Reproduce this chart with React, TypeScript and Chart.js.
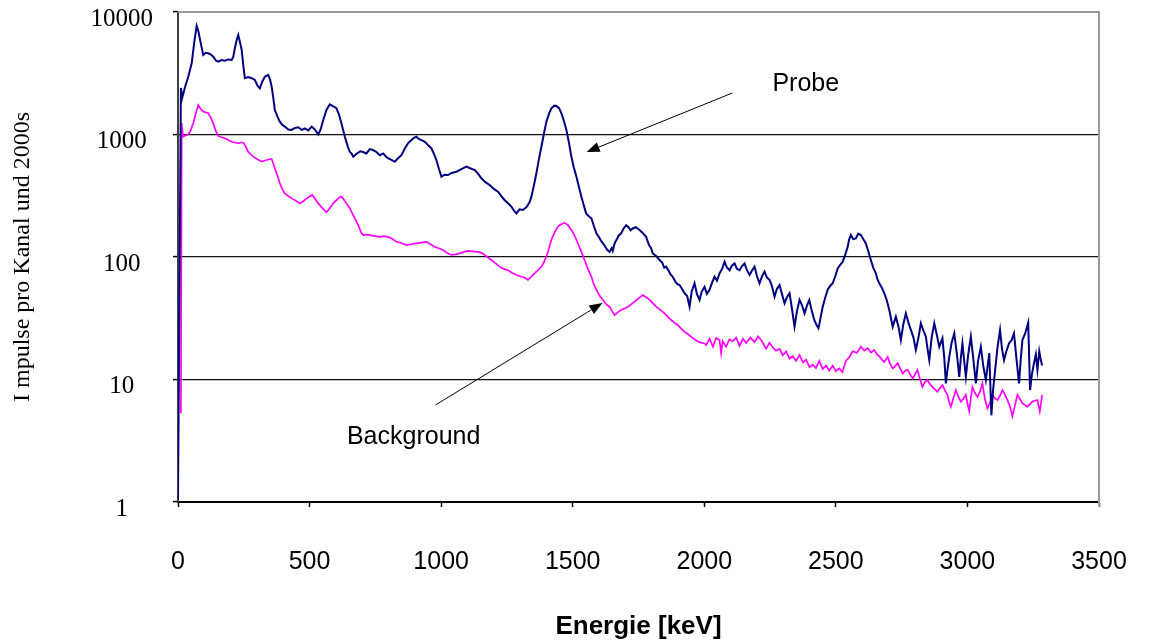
import React, { useEffect, useRef } from "react";
import { Chart, registerables } from "chart.js";

Chart.register(...registerables);

// ---- data ----
const probeEnergy = [
  0, 11, 16, 27, 39, 52, 62, 71, 78, 84, 96, 106, 115, 125, 134, 145, 153, 165, 178, 191,
  204, 210, 216, 223, 229, 236, 242, 248, 254, 267, 280, 292, 302, 311, 320, 330, 343, 350, 356, 362,
  368, 378, 387, 396, 406, 419, 432, 444, 457, 470, 482, 495, 508, 520, 533, 542, 552, 565, 577, 590,
  602, 612, 621, 628, 634, 645, 653, 659, 666, 680, 693, 703, 716, 729, 741, 754, 767, 780, 790, 798,
  811, 824, 836, 849, 861, 874, 887, 897, 906, 915, 925, 938, 950, 963, 972, 982, 992, 1001, 1013, 1026,
  1040, 1058, 1075, 1096, 1110, 1128, 1140, 1153, 1167, 1184, 1200, 1216, 1228, 1241, 1254, 1267, 1276, 1286, 1298, 1311,
  1324, 1336, 1343, 1352, 1362, 1371, 1381, 1390, 1400, 1410, 1419, 1430, 1438, 1448, 1457, 1466, 1476, 1486, 1495, 1504,
  1514, 1524, 1533, 1542, 1551, 1561, 1571, 1580, 1590, 1600, 1608, 1615, 1625, 1632, 1640, 1648, 1652, 1659, 1668, 1675,
  1684, 1693, 1703, 1712, 1720, 1728, 1740, 1754, 1765, 1779, 1790, 1798, 1804, 1817, 1830, 1840, 1848, 1855, 1866, 1872,
  1880, 1890, 1898, 1906, 1915, 1925, 1935, 1944, 1952, 1963, 1972, 1982, 1990, 2001, 2010, 2020, 2030, 2039, 2048, 2058,
  2068, 2077, 2086, 2096, 2105, 2115, 2124, 2134, 2143, 2153, 2162, 2172, 2182, 2191, 2200, 2210, 2220, 2229, 2238, 2248,
  2257, 2267, 2276, 2286, 2295, 2305, 2314, 2324, 2333, 2343, 2352, 2362, 2372, 2381, 2390, 2399, 2409, 2418, 2426, 2434,
  2442, 2450, 2460, 2469, 2478, 2488, 2498, 2507, 2516, 2526, 2536, 2545, 2550, 2557, 2566, 2576, 2585, 2595, 2604, 2614,
  2624, 2633, 2642, 2652, 2658, 2665, 2675, 2684, 2694, 2703, 2716, 2728, 2738, 2747, 2756, 2766, 2776, 2785, 2795, 2804,
  2814, 2823, 2833, 2842, 2848, 2855, 2864, 2874, 2884, 2893, 2905, 2912, 2918, 2924, 2931, 2940, 2950, 2960, 2969, 2975,
  2981, 2988, 2994, 3003, 3013, 3022, 3032, 3040, 3051, 3060, 3070, 3077, 3083, 3091, 3097, 3104, 3114, 3124, 3131, 3139,
  3148, 3158, 3168, 3177, 3186, 3196, 3203, 3209, 3220, 3231, 3238, 3245, 3253, 3260, 3266, 3273, 3279, 3284,
];
const probeCounts = [
  1.04, 2400, 1990, 2450, 2965, 3810, 5700, 7690, 6900, 5900, 4460, 4650, 4600, 4500, 4315, 4000, 3925, 4050, 4000, 4100,
  4060, 4300, 5060, 5900, 6490, 5600, 4900, 3700, 2880, 2950, 2880, 2790, 2500, 2385, 2700, 2965, 3060, 2800, 2455, 2000,
  1585, 1400, 1273, 1200, 1160, 1100, 1090, 1130, 1145, 1090, 1120, 1080, 1160, 1100, 1000, 1100, 1313, 1600, 1765, 1700,
  1637, 1450, 1234, 1080, 960, 800, 720, 703, 659, 700, 730, 720, 700, 760, 747, 720, 678, 700, 660, 640,
  620, 600, 640, 678, 760, 848, 900, 940, 960, 920, 900, 873, 820, 771, 700, 619, 520, 453, 470, 467,
  485, 497, 520, 546, 530, 513, 480, 439, 410, 387, 360, 341, 315, 292, 275, 258, 240, 227, 245, 242,
  255, 280, 311, 380, 482, 620, 795, 1000, 1273, 1480, 1637, 1720, 1710, 1640, 1490, 1300, 1090, 850, 659, 540,
  453, 370, 311, 265, 227, 215, 207, 180, 156, 145, 135, 129, 120, 114, 110, 118, 112, 129, 140, 150,
  156, 170, 182, 175, 165, 171, 175, 166, 158, 146, 125, 118, 107, 102, 94.5, 90, 82, 83.4, 76, 72,
  69, 63, 60, 59, 55, 50.6, 48, 39.3, 52, 61, 50, 44.6, 52, 57, 50, 54, 62, 69, 64, 73.6,
  80, 91.6, 82, 78, 85, 88.8, 80, 78, 84, 88.8, 78, 71.3, 78, 83.4, 70, 61, 70, 75.9, 68, 65,
  58, 47.4, 55, 59, 50, 41.9, 47, 50.6, 38, 27, 36, 44.6, 40, 34.7, 40, 44.6, 36, 30.6, 28, 26.2,
  32, 39.3, 47, 54, 58, 61, 70, 80.7, 86, 91.6, 105, 121, 138, 151, 140, 142, 155, 151, 140, 129,
  110, 94.5, 82, 73.6, 66, 61, 56, 50.6, 44, 36.9, 27, 32.6, 27, 21, 28, 34.7, 29, 25.4, 22, 17.4,
  22, 28.8, 25, 22.4, 18, 14.4, 22, 28.8, 23, 18.5, 21.7, 15, 9.3, 12, 15.3, 20, 23.8, 16, 10.5, 15,
  19.7, 14, 10.5, 16, 22.4, 15, 9.3, 14, 18.5, 13, 9.9, 13, 16.4, 5.1, 8, 11.2, 18, 25.4, 18, 14.4,
  17, 19.7, 21, 23.8, 15, 9.3, 15, 21, 24, 29.1, 8.2, 11, 13.6, 16, 12, 17, 14.4, 13,
];

const backgroundEnergy = [
  11, 14, 19, 28, 39, 48, 58, 68, 77, 86, 96, 105, 115, 124, 134, 143, 153, 165, 178, 191,
  204, 216, 229, 238, 248, 257, 267, 276, 286, 300, 318, 328, 337, 346, 356, 362, 368, 378, 387, 396,
  406, 419, 432, 446, 463, 476, 489, 500, 510, 520, 533, 548, 564, 577, 590, 605, 612, 621, 630, 640,
  653, 662, 672, 686, 695, 703, 716, 729, 748, 767, 782, 798, 815, 830, 849, 868, 887, 906, 925, 944,
  960, 976, 991, 1007, 1023, 1039, 1055, 1071, 1087, 1102, 1120, 1140, 1153, 1166, 1178, 1191, 1206, 1222, 1238, 1254,
  1270, 1286, 1305, 1317, 1330, 1342, 1355, 1368, 1381, 1390, 1400, 1410, 1419, 1432, 1444, 1456, 1469, 1482, 1495, 1508,
  1520, 1533, 1545, 1558, 1571, 1580, 1590, 1603, 1615, 1628, 1640, 1650, 1659, 1672, 1684, 1697, 1710, 1722, 1735, 1750,
  1766, 1779, 1792, 1804, 1817, 1833, 1849, 1862, 1874, 1887, 1899, 1912, 1925, 1937, 1950, 1962, 1975, 1988, 2001, 2007,
  2020, 2033, 2045, 2058, 2064, 2070, 2083, 2095, 2108, 2121, 2134, 2147, 2159, 2175, 2191, 2204, 2216, 2225, 2235, 2248,
  2260, 2273, 2286, 2298, 2311, 2324, 2336, 2349, 2362, 2375, 2387, 2400, 2412, 2424, 2437, 2450, 2463, 2475, 2488, 2500,
  2513, 2525, 2538, 2551, 2564, 2580, 2595, 2608, 2621, 2633, 2646, 2656, 2665, 2675, 2684, 2697, 2706, 2716, 2725, 2735,
  2745, 2754, 2764, 2773, 2782, 2792, 2801, 2810, 2820, 2829, 2838, 2848, 2857, 2867, 2876, 2886, 2895, 2905, 2914, 2924,
  2931, 2937, 2946, 2956, 2965, 2975, 2985, 2994, 3000, 3007, 3013, 3019, 3028, 3038, 3048, 3057, 3066, 3076, 3086, 3095,
  3105, 3114, 3124, 3133, 3143, 3152, 3162, 3171, 3181, 3190, 3200, 3209, 3218, 3228, 3238, 3247, 3256, 3266, 3275, 3284,
];
const backgroundCounts = [
  5.3, 1240, 960, 980, 1000, 1080, 1234, 1500, 1740, 1620, 1535, 1520, 1490, 1380, 1234, 1080, 972, 950, 931, 900,
  873, 860, 848, 860, 860, 800, 720, 690, 659, 630, 600, 610, 619, 628, 630, 580, 530, 460, 400, 360,
  331, 315, 301, 290, 274, 285, 301, 312, 321, 300, 274, 252, 232, 250, 274, 295, 305, 311, 295, 274,
  250, 228, 207, 180, 160, 151, 152, 151, 148, 146, 148, 146, 140, 133, 130, 125, 127, 129, 131, 133,
  127, 121, 118, 114, 108, 104, 105, 107, 110, 112, 111, 110, 108, 104, 99, 94.5, 89, 83.4, 80, 78,
  74, 71.3, 69, 68, 65, 69, 73.6, 78, 83.4, 90, 101, 118, 138, 160, 177, 185, 190, 182, 166, 148,
  129, 110, 94.5, 80, 69, 60, 54, 48, 44.6, 41, 39.3, 36, 33.6, 35.5, 36.9, 38, 39.3, 41, 43.2, 46,
  49, 47, 44.6, 42, 39.3, 37, 34.7, 32.5, 30.6, 29, 27.9, 26, 24.5, 23.5, 22.4, 21.3, 20.4, 20, 19.7, 19.1,
  21.5, 18.5, 21.8, 21, 16.4, 20.5, 18.5, 21.2, 20.5, 22, 18.8, 21.5, 19.8, 22, 20.2, 22.5, 21, 19.5, 17.8, 20,
  18.3, 17.2, 17.8, 15.8, 16.9, 14.8, 15.5, 14.2, 15.8, 13.8, 14.5, 12.6, 13.2, 12.4, 14.2, 12.2, 13, 11.8, 13, 11.7,
  12.3, 11.5, 14.2, 15.2, 17, 16.5, 18.5, 17.2, 18, 16.6, 17.4, 16, 15.5, 14.5, 13.9, 15.3, 13.5, 12.3, 12.8, 13.6,
  12.2, 11.2, 11.8, 12, 11, 10.2, 11, 12, 10, 8.7, 9.5, 9.9, 9.2, 8.7, 8.3, 7.95, 8.5, 9.0, 8.2, 7.5,
  6.5, 6.0, 7, 8.2, 7.3, 6.6, 7, 7.5, 6.4, 5.5, 7, 8.7, 7.8, 7.2, 8, 9.3, 7, 5.8, 6.5, 7.5,
  7, 6.8, 7.4, 8.2, 7.5, 6.8, 6, 5.0, 6.2, 7.5, 6.9, 6.4, 6.2, 6.0, 6.3, 6.6, 6.7, 6.8, 5.5, 7.5,
];

const yTickValues = [1, 10, 100, 1000, 10000];
const yGridValues = [10, 100, 1000];

// annotation anchors in data units (energy keV, counts)
const probeLabel = { text: "Probe", x: 2259, y: 2584 };
const probeArrow = { from: { x: 2107, y: 2183 }, to: { x: 1553, y: 719 } };
const bgLabel = { text: "Background", x: 642, y: 3.4 };
const bgArrow = { from: { x: 979, y: 6.2 }, to: { x: 1613, y: 42.1 } };

const SANS = '"Liberation Sans", Arial, sans-serif';
const SERIF = '"Liberation Serif", "Times New Roman", serif';

function drawArrow(ctx: CanvasRenderingContext2D, x1: number, y1: number, x2: number, y2: number) {
  const ang = Math.atan2(y2 - y1, x2 - x1);
  const len = 13;
  const half = 5;
  const bx = x2 - len * Math.cos(ang);
  const by = y2 - len * Math.sin(ang);
  ctx.beginPath();
  ctx.moveTo(x1, y1);
  ctx.lineTo(bx, by);
  ctx.stroke();
  ctx.beginPath();
  ctx.moveTo(x2, y2);
  ctx.lineTo(bx + half * Math.sin(ang), by - half * Math.cos(ang));
  ctx.lineTo(bx - half * Math.sin(ang), by + half * Math.cos(ang));
  ctx.closePath();
  ctx.fill();
}

const framePlugin = {
  id: "frameAndNotes",
  beforeDatasetsDraw(chart: any) {
    const { ctx, chartArea } = chart;
    const { left, right, top, bottom } = chartArea;
    ctx.save();
    ctx.strokeStyle = "#9a9a9a";
    ctx.lineWidth = 2;
    ctx.beginPath();
    ctx.moveTo(left, top);
    ctx.lineTo(right, top);
    ctx.lineTo(right, bottom + 5);
    ctx.stroke();
    ctx.restore();
  },
  afterDraw(chart: any) {
    const { ctx, scales } = chart;
    const xs = scales.x;
    const ys = scales.y;
    const px = (v: number) => xs.getPixelForValue(v);
    const py = (v: number) => ys.getPixelForValue(v);
    ctx.save();
    ctx.fillStyle = "#000";
    ctx.strokeStyle = "#000";
    ctx.lineWidth = 1;
    ctx.font = `25px ${SANS}`;
    ctx.textAlign = "left";
    ctx.textBaseline = "middle";
    ctx.fillText(probeLabel.text, px(probeLabel.x), py(probeLabel.y));
    ctx.fillText(bgLabel.text, px(bgLabel.x), py(bgLabel.y));
    drawArrow(ctx, px(probeArrow.from.x), py(probeArrow.from.y), px(probeArrow.to.x), py(probeArrow.to.y));
    drawArrow(ctx, px(bgArrow.from.x), py(bgArrow.from.y), px(bgArrow.to.x), py(bgArrow.to.y));
    ctx.restore();
  },
};

export default function App() {
  const canvasRef = useRef<HTMLCanvasElement | null>(null);

  useEffect(() => {
    const canvas = canvasRef.current;
    if (!canvas) return;
    const chart = new Chart(canvas, {
      type: "line",
      data: {
        datasets: [
          {
            label: "Probe",
            data: probeEnergy.map((e, i) => ({ x: e, y: probeCounts[i] })),
            borderColor: "#000080",
            borderWidth: 2,
            pointRadius: 0,
            tension: 0,
            fill: false,
          },
          {
            label: "Background",
            data: backgroundEnergy.map((e, i) => ({ x: e, y: backgroundCounts[i] })),
            borderColor: "#ff00ff",
            borderWidth: 1.7,
            pointRadius: 0,
            tension: 0,
            fill: false,
          },
        ],
      },
      options: {
        responsive: false,
        animation: false,
        layout: { padding: { top: 12, right: 50, left: 0, bottom: 0 } },
        plugins: {
          legend: { display: false },
          tooltip: { enabled: false },
        },
        scales: {
          x: {
            type: "linear",
            min: 0,
            max: 3500,
            ticks: {
              stepSize: 500,
              color: "#000",
              font: { family: SANS, size: 25 },
              padding: 40,
              maxRotation: 0,
              callback: (v: any) => String(v),
            },
            grid: {
              drawOnChartArea: false,
              drawTicks: true,
              tickLength: 5,
              tickColor: "#000",
              tickWidth: 1.5,
            },
            border: { color: "#000", width: 2 },
            title: {
              display: true,
              text: "Energie [keV]",
              color: "#000",
              font: { family: SANS, size: 26, weight: "bold" },
              padding: { top: 0, bottom: 0 },
            },
            afterFit: (scale: any) => {
              scale.height = 140;
              scale.paddingLeft = 0;
              scale.paddingRight = 0;
            },
          },
          y: {
            type: "logarithmic",
            min: 1,
            max: 10000,
            afterBuildTicks: (scale: any) => {
              scale.ticks = yTickValues.map((v) => ({ value: v }));
            },
            ticks: {
              color: "#000",
              font: { family: SERIF, size: 25 },
              padding: 20,
              crossAlign: "center",
              labelOffset: 7,
              autoSkip: false,
              callback: (v: any) => String(v),
            },
            grid: {
              color: (c: any) => (yGridValues.includes(c.tick?.value) ? "#111" : "rgba(0,0,0,0)"),
              lineWidth: 1.2,
              drawTicks: true,
              tickLength: 5,
              tickColor: "#000",
              tickWidth: 1.5,
            },
            border: { color: "#404040", width: 2 },
            title: {
              display: true,
              text: "I mpulse pro Kanal und 2000s",
              color: "#000",
              font: { family: SERIF, size: 24 },
              padding: { top: 8, bottom: 0 },
            },
            afterFit: (scale: any) => {
              scale.width = 178;
              scale.paddingTop = 0;
              scale.paddingBottom = 0;
            },
          },
        },
      },
      plugins: [framePlugin],
    } as any);
    return () => chart.destroy();
  }, []);

  return (
    <div style={{ position: "absolute", left: 0, top: 0, width: 1149, height: 642, background: "#fff" }}>
      <canvas ref={canvasRef} width={1149} height={642} style={{ display: "block" }} />
    </div>
  );
}
